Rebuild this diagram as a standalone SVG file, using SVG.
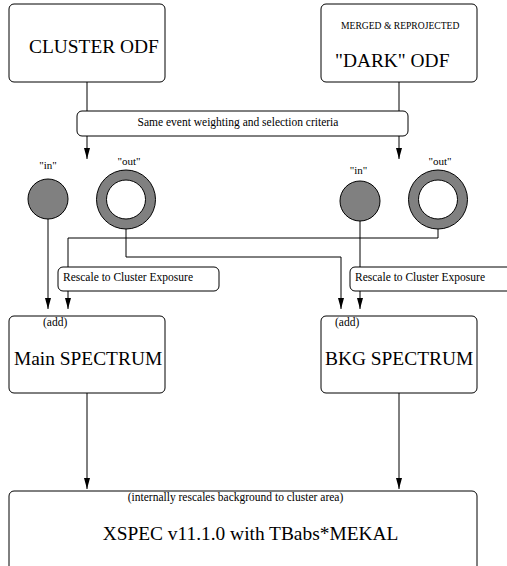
<svg xmlns="http://www.w3.org/2000/svg" width="507" height="566" viewBox="0 0 507 566">
<defs>
<marker id="ah" markerUnits="userSpaceOnUse" markerWidth="11" markerHeight="7" refX="11" refY="3.5" orient="auto">
<path d="M0,0.5 L11,3.5 L0,6.5 z" fill="#000"/>
</marker>
<style>
.box{fill:#fff;stroke:#000;stroke-width:1}
.ln{fill:none;stroke:#000;stroke-width:1}
.arr{fill:none;stroke:#000;stroke-width:1;marker-end:url(#ah)}
.big{font-family:"Liberation Serif","Times New Roman",serif;font-size:19.4px;fill:#000}
.sm{font-family:"Liberation Serif","Times New Roman",serif;font-size:11.5px;fill:#000}
.lab{font-family:"Liberation Serif","Times New Roman",serif;font-size:11px;fill:#000}
.disk{fill:#808080;stroke:#000;stroke-width:1}
.hole{fill:#fff;stroke:#000;stroke-width:1}
</style>
</defs>
<rect width="507" height="566" fill="#fff"/>
<g id="connectors">
<path class="arr" d="M87,82 V159"/>
<path class="arr" d="M399,82 V159"/>
<path class="arr" d="M48,219 V309"/>
<path class="arr" d="M438,229 V238 H68 V309"/>
<path class="arr" d="M126,229 V257 H341 V309"/>
<path class="arr" d="M360,221 V309"/>
<path class="arr" d="M87,393 V489"/>
<path class="arr" d="M399,393 V489"/>
</g>
<g id="cluster-odf">
<rect class="box" x="9" y="4" width="156" height="78" rx="5"/>
<text class="big" x="29" y="53">CLUSTER ODF</text>
</g>
<g id="dark-odf">
<rect class="box" x="321" y="4" width="156" height="78" rx="5"/>
<text class="sm" x="341" y="29" style="font-size:9.6px">MERGED &amp; REPROJECTED</text>
<text class="big" x="335" y="67">"DARK" ODF</text>
</g>
<g id="selection">
<rect class="box" x="77" y="111" width="331" height="25" rx="5"/>
<text class="sm" x="238" y="126" text-anchor="middle">Same event weighting and selection criteria</text>
</g>
<g id="cluster-in">
<circle class="disk" cx="48" cy="199" r="20"/>
<text class="lab" x="48" y="169" text-anchor="middle">"in"</text>
</g>
<g id="cluster-out">
<circle class="disk" cx="126" cy="199.5" r="29.5"/>
<circle class="hole" cx="126" cy="199.5" r="19.5"/>
<text class="lab" x="129" y="164.5" text-anchor="middle">"out"</text>
</g>
<g id="dark-in">
<circle class="disk" cx="360" cy="201" r="20"/>
<text class="lab" x="358.5" y="173.5" text-anchor="middle">"in"</text>
</g>
<g id="dark-out">
<circle class="disk" cx="438" cy="199.5" r="29.5"/>
<circle class="hole" cx="438" cy="199.5" r="19.5"/>
<text class="lab" x="440" y="164.5" text-anchor="middle">"out"</text>
</g>
<g id="rescale-left">
<rect class="box" x="58" y="267" width="161" height="24" rx="5"/>
<text class="sm" x="63" y="281">Rescale to Cluster Exposure</text>
</g>
<g id="rescale-right">
<rect class="box" x="350" y="267" width="170" height="24" rx="5"/>
<text class="sm" x="355" y="281">Rescale to Cluster Exposure</text>
</g>
<g id="main-spectrum">
<rect class="box" x="9" y="316" width="156" height="77" rx="5"/>
<text class="sm" x="43" y="326">(add)</text>
<text class="big" x="14" y="365">Main SPECTRUM</text>
</g>
<g id="bkg-spectrum">
<rect class="box" x="321" y="316" width="156" height="77" rx="5"/>
<text class="sm" x="335" y="326">(add)</text>
<text class="big" x="325" y="365">BKG SPECTRUM</text>
</g>
<g id="xspec">
<rect class="box" x="9" y="491" width="468" height="90" rx="5"/>
<text class="sm" x="235.5" y="501" text-anchor="middle">(internally rescales background to cluster area)</text>
<text class="big" x="250.5" y="540" text-anchor="middle">XSPEC v11.1.0 with TBabs*MEKAL</text>
</g>
</svg>
